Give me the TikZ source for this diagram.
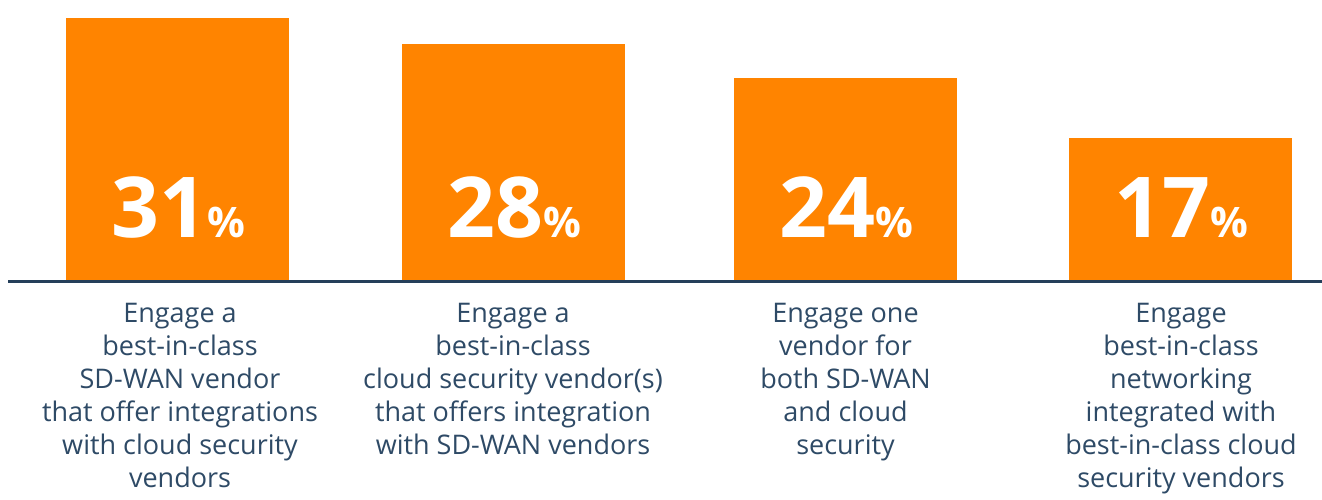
\documentclass[tikz,border=0pt]{standalone}
\usepackage{fontspec}
\setmainfont{Open Sans}
\definecolor{barorange}{HTML}{FF8400}
\definecolor{axisnavy}{HTML}{253F5A}
\definecolor{labeltext}{HTML}{2E4A66}
\begin{document}
\begin{tikzpicture}[x=1pt,y=-1pt,
  bar/.style={fill=barorange, draw=none, inner sep=0pt, anchor=south, minimum width=223pt},
  pct/.style={text=white, inner sep=0pt, anchor=base, font=\fontsize{84}{84}\selectfont\bfseries},
  lbl/.style={text=labeltext, inner sep=0pt, anchor=north, align=center, font=\fontsize{27}{33}\selectfont}]
\useasboundingbox (0,0) rectangle (1322,499);
\node[bar, minimum height=262pt] (b1) at (177.5,280) {};
\node[bar, minimum height=236pt] (b2) at (513.5,280) {};
\node[bar, minimum height=202pt] (b3) at (845.5,280) {};
\node[bar, minimum height=142pt] (b4) at (1180.5,280) {};
\newcommand{\pc}{{\fontsize{42}{42}\selectfont\%}}
\node[pct] (p1) at (178,237) {31\pc};
\node[pct] (p2) at (514,237) {28\pc};
\node[pct] (p3) at (846,237) {24\pc};
\node[pct] (p4) at (1181,237) {17\pc};
\coordinate (axL) at (8,281.5);
\coordinate (axR) at (1322,281.5);
\draw[axisnavy, line width=2.2pt] (axL) -- (axR);
\node[lbl] (l1) at (180,303) {Engage a\\best-in-class\\SD-WAN vendor\\that offer integrations\\with cloud security\\vendors};
\node[lbl] (l2) at (513,303) {Engage a\\best-in-class\\cloud security vendor(s)\\that offers integration\\with SD-WAN vendors};
\node[lbl] (l3) at (845.5,303) {Engage one\\vendor for\\both SD-WAN\\and cloud\\security};
\node[lbl] (l4) at (1181,303) {Engage\\best-in-class\\networking\\integrated with\\best-in-class cloud\\security vendors};
\end{tikzpicture}
\end{document}
